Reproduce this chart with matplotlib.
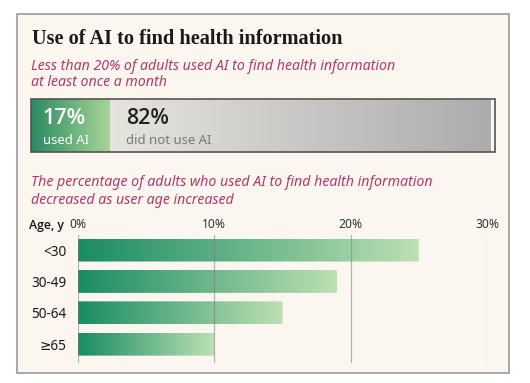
import numpy as np
import matplotlib
matplotlib.use("Agg")
import matplotlib.pyplot as plt
from matplotlib.colors import LinearSegmentedColormap
from matplotlib.patches import Rectangle, FancyBboxPatch

# ---- data ----
title = "Use of AI to find health information"
subtitle1 = "Less than 20% of adults used AI to find health information\nat least once a month"
subtitle2 = "The percentage of adults who used AI to find health information\ndecreased as user age increased"
overall_labels = ["used AI", "did not use AI"]
overall_values = [17, 82]
age_groups = ["<30", "30-49", "50-64", "≥65"]
age_values = [25, 19, 15, 10]
x_ticks = [0, 10, 20, 30]
x_tick_labels = ["0%", "10%", "20%", "30%"]
age_axis_label = "Age, y"

W, H = 530, 383
DPI = 100
fig = plt.figure(figsize=(W / DPI, H / DPI), dpi=DPI, facecolor="white")

SANS = ["Noto Sans", "DejaVu Sans"]
BOLD = ["Open Sans", "DejaVu Sans"]
SERIF = ["Liberation Serif", "DejaVu Serif"]
PINK = "#b03a6b"

def px_axes(x0, y0, x1, y1):
    """axes from pixel box (top-left origin)"""
    return fig.add_axes([x0 / W, 1 - y1 / H, (x1 - x0) / W, (y1 - y0) / H])

# background layer
bg = fig.add_axes([0, 0, 1, 1])
bg.set_xlim(0, W)
bg.set_ylim(H, 0)
bg.axis("off")
bg.add_patch(Rectangle((17, 14), 492, 359, facecolor="#fbf6ef", edgecolor="#9a9a9a", lw=1.2))
bg.text(32, 44, title, family=SERIF, fontweight="bold", fontsize=14.6, color="#1a1a1a", va="baseline")
bg.text(31, 67, subtitle1.split("\n")[0], family=SANS, style="italic", fontsize=10.2, color=PINK, va="center")
bg.text(31, 82, subtitle1.split("\n")[1], family=SANS, style="italic", fontsize=10.2, color=PINK, va="center")
bg.text(31, 183, subtitle2.split("\n")[0], family=SANS, style="italic", fontsize=10.2, color=PINK, va="center")
bg.text(31, 200, subtitle2.split("\n")[1], family=SANS, style="italic", fontsize=10.2, color=PINK, va="center")
bg.text(64, 226, age_axis_label, family=BOLD, fontsize=8.8, color="#1a1a1a", ha="right", va="center", fontweight="semibold")

# ---- overall stacked bar ----
ax1 = px_axes(31, 99, 495, 152)
ax1.set_xlim(0, 100)
ax1.set_ylim(-0.5, 0.5)
ax1.axis("off")
green_cmap = LinearSegmentedColormap.from_list("g1", ["#2b8a61", "#a6d597"])
gray_cmap = LinearSegmentedColormap.from_list("gr", ["#e6e4df", "#acacac"])
grad = np.linspace(0, 1, 256).reshape(1, -1)
left = 0
for val, cmap in zip(overall_values, [green_cmap, gray_cmap]):
    b = ax1.barh(0, val, left=left, height=1.0, color="none", edgecolor="none")[0]
    im = ax1.imshow(grad, cmap=cmap, extent=[left, left + val, -0.5, 0.5], aspect="auto", zorder=1)
    im.set_clip_path(b)
    left += val
ax1.set_xlim(0, 100)
ax1.set_ylim(-0.5, 0.5)
ax1.add_patch(Rectangle((0, -0.5), 100, 1, transform=ax1.transData, fill=False, edgecolor="#555555", lw=1.2, zorder=3, clip_on=False))
ax1.text(2.5, 0.14, f"{overall_values[0]}%", family=BOLD, fontweight="semibold", fontsize=15.5, color="white", va="center", ha="left")
ax1.text(2.6, -0.28, overall_labels[0], family=SANS, fontsize=9.5, color="white", va="center", ha="left")
ax1.text(overall_values[0] + 3.4, 0.14, f"{overall_values[1]}%", family=BOLD, fontweight="semibold", fontsize=15.5, color="#222222", va="center", ha="left")
ax1.text(overall_values[0] + 3.5, -0.28, overall_labels[1], family=SANS, fontsize=9.5, color="#7a7a7a", va="center", ha="left")

# ---- age bars ----
ax2 = px_axes(78, 235, 487, 363)
ax2.set_facecolor("none")
ax2.set_xlim(0, 30)
ax2.set_ylim(3.6, -0.48)
bar_cmap = LinearSegmentedColormap.from_list("g2", ["#1a8c62", "#bde0b4"])
ys = np.arange(len(age_groups))
bars = ax2.barh(ys, age_values, height=0.73, color="none", edgecolor="none")
for b, y, v in zip(bars, ys, age_values):
    patch = FancyBboxPatch((0, y - 0.365), v, 0.73, boxstyle="round,pad=0,rounding_size=0.12",
                           mutation_aspect=1 / 0.45 * 0.1, facecolor="none", edgecolor="none", transform=ax2.transData)
    ax2.add_patch(patch)
    im = ax2.imshow(grad, cmap=bar_cmap, extent=[0, v, y - 0.365, y + 0.365], aspect="auto", zorder=1)
    im.set_clip_path(patch)
ax2.set_xlim(0, 30)
ax2.set_ylim(3.6, -0.48)
for t in x_ticks:
    ax2.axvline(t, color="#7d7d7d", lw=0.9, alpha=0.55, zorder=3)
ax2.set_xticks(x_ticks)
ax2.set_xticklabels(x_tick_labels, family=SANS, fontsize=8.7, color="#333333")
ax2.xaxis.tick_top()
ax2.tick_params(axis="x", length=0, pad=3)
ax2.set_yticks(ys)
ax2.set_yticklabels(age_groups, family=SANS, fontsize=9.8, color="#1a1a1a")
ax2.tick_params(axis="y", length=0, pad=8)
for s in ax2.spines.values():
    s.set_visible(False)

fig.savefig("out.png", dpi=DPI, facecolor="white")
